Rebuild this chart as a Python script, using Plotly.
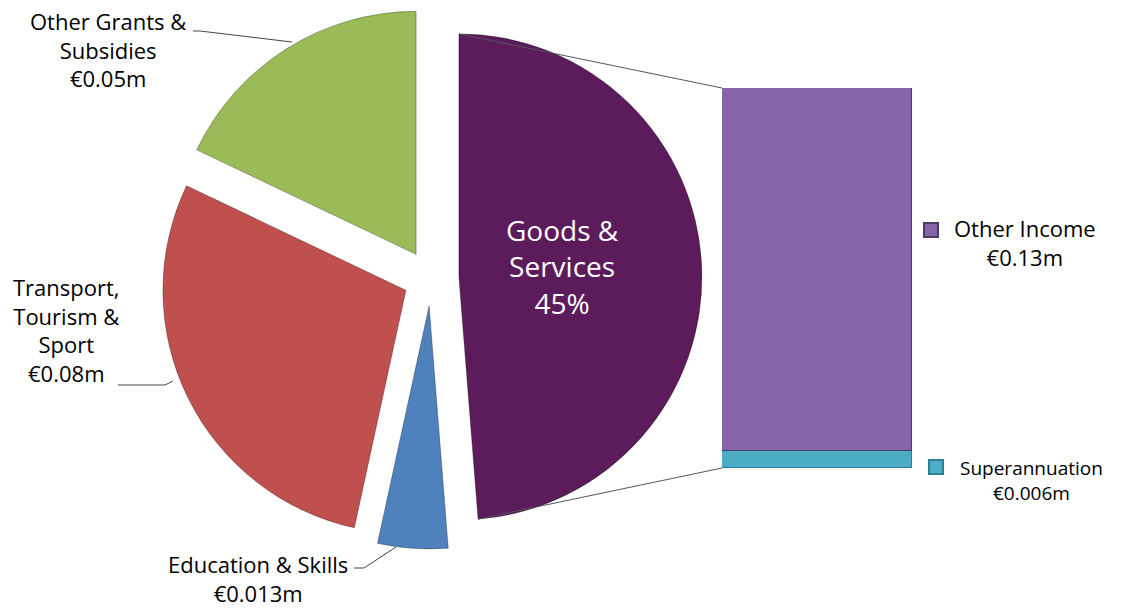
import math
import plotly.graph_objects as go

# ---- data ----
pie_labels = ["Goods & Services", "Education & Skills", "Transport, Tourism & Sport", "Other Grants & Subsidies"]
bar_labels = ["Superannuation", "Other Income"]
bar_values = [0.006, 0.13]
pie_values = [sum(bar_values), 0.013, 0.08, 0.05]
goods_pct_label = "45%"
pie_texts = ["Goods &<br>Services<br>" + goods_pct_label,
             "Education & Skills<br>€0.013m",
             "Transport,<br>Tourism &<br>Sport<br>€0.08m",
             "Other Grants &<br>Subsidies<br>€0.05m"]
bar_texts = ["Superannuation<br>€0.006m", "Other Income<br>€0.13m"]

pie_colors = ["#5C1C5C", "#4F81BD", "#C0504D", "#9BBB59"]
bar_colors = ["#4BACC6", "#8466A8"]
bar_edge = ["#2E7F93", "#4E3A66"]

W, H = 1137, 610
FONT = "Open Sans"

def px(x):
    return x / W

def py(y):
    return 1 - y / H

# pie geometry (pixels)
cx, cy, r, pull = 431, 278, 243, 0.115
R = r * (1 + pull)
rotation = 0

# bar geometry (pixels)
bx0, bx1, by0, by1 = 722, 912, 88, 468

fig = go.Figure()
fig.add_trace(go.Pie(
    labels=pie_labels, values=pie_values, sort=False, direction="clockwise",
    rotation=rotation, pull=[pull] * 4,
    marker=dict(colors=pie_colors, line=dict(color="rgba(0,0,0,0.3)", width=1)),
    textinfo="none", hoverinfo="label+value", showlegend=False,
    domain=dict(x=[px(cx - R), px(cx + R)], y=[py(cy + R), py(cy - R)]),
))
for lab, val, col, edge in zip(bar_labels, bar_values, bar_colors, bar_edge):
    fig.add_trace(go.Bar(x=[0], y=[val], name=lab, width=1,
                         marker=dict(color=col, line=dict(color=edge, width=1.5)),
                         showlegend=False, xaxis="x", yaxis="y"))

# connector lines from goods slice arc ends to bar corners
total = sum(pie_values)
g_frac = pie_values[0] / total
a0 = math.radians(rotation)
a1 = math.radians(rotation + 360 * g_frac)
amid = (a0 + a1) / 2
ax, ay = cx + pull * r * math.sin(amid), cy - pull * r * math.cos(amid)
top_pt = (ax + r * math.sin(a0), ay - r * math.cos(a0))
bot_pt = (ax + r * math.sin(a1), ay - r * math.cos(a1))
shapes = [
    dict(type="line", xref="paper", yref="paper", x0=px(top_pt[0]), y0=py(top_pt[1]),
         x1=px(bx0), y1=py(by0), line=dict(color="#555555", width=1)),
    dict(type="line", xref="paper", yref="paper", x0=px(bot_pt[0]), y0=py(bot_pt[1]),
         x1=px(bx0), y1=py(by1), line=dict(color="#555555", width=1)),
]

def path(points):
    d = "M " + " L ".join(f"{px(x)},{py(y)}" for x, y in points)
    return dict(type="path", xref="paper", yref="paper", path=d,
                line=dict(color="#444444", width=1))

# leader lines for outside labels
shapes.append(path([(193, 31), (200, 31), (292, 42)]))
shapes.append(path([(118, 385), (165, 385), (173, 381)]))
shapes.append(path([(354, 568), (364, 568), (396, 547)]))

# legend squares next to bar segments
for (x0, y0), col, edge in [((924, 223), bar_colors[1], bar_edge[1]), ((929, 460), bar_colors[0], bar_edge[0])]:
    shapes.append(dict(type="rect", xref="paper", yref="paper", x0=px(x0), x1=px(x0 + 14),
                       y0=py(y0 + 14), y1=py(y0), fillcolor=col, line=dict(color=edge, width=2)))

ann = []
def add_text(text, x, y, size=18, color="#000000"):
    ann.append(dict(text=text, x=px(x), y=py(y), xref="paper", yref="paper", showarrow=False,
                    xanchor="center", yanchor="middle", align="center",
                    font=dict(family=FONT, size=size, color=color)))

add_text(pie_texts[0], 562, 266, size=28, color="white")
add_text(pie_texts[3], 108, 50, size=22)
add_text(pie_texts[2], 66, 330, size=22)
add_text(pie_texts[1], 258, 578, size=22)
add_text(bar_texts[1], 1025, 243, size=22)
add_text(bar_texts[0], 1031, 480, size=19)

fig.update_layout(
    width=W, height=H, margin=dict(l=0, r=0, t=0, b=0),
    paper_bgcolor="white", plot_bgcolor="white", barmode="stack", bargap=0,
    xaxis=dict(domain=[px(bx0), px(bx1)], range=[-0.5, 0.5], visible=False, fixedrange=True),
    yaxis=dict(domain=[py(by1), py(by0)], range=[0, sum(bar_values)], visible=False, fixedrange=True),
    shapes=shapes, annotations=ann,
)
fig.write_html("out.html", config={"displayModeBar": False},
               post_script="document.body.style.margin='0';document.body.style.overflow='hidden';")
